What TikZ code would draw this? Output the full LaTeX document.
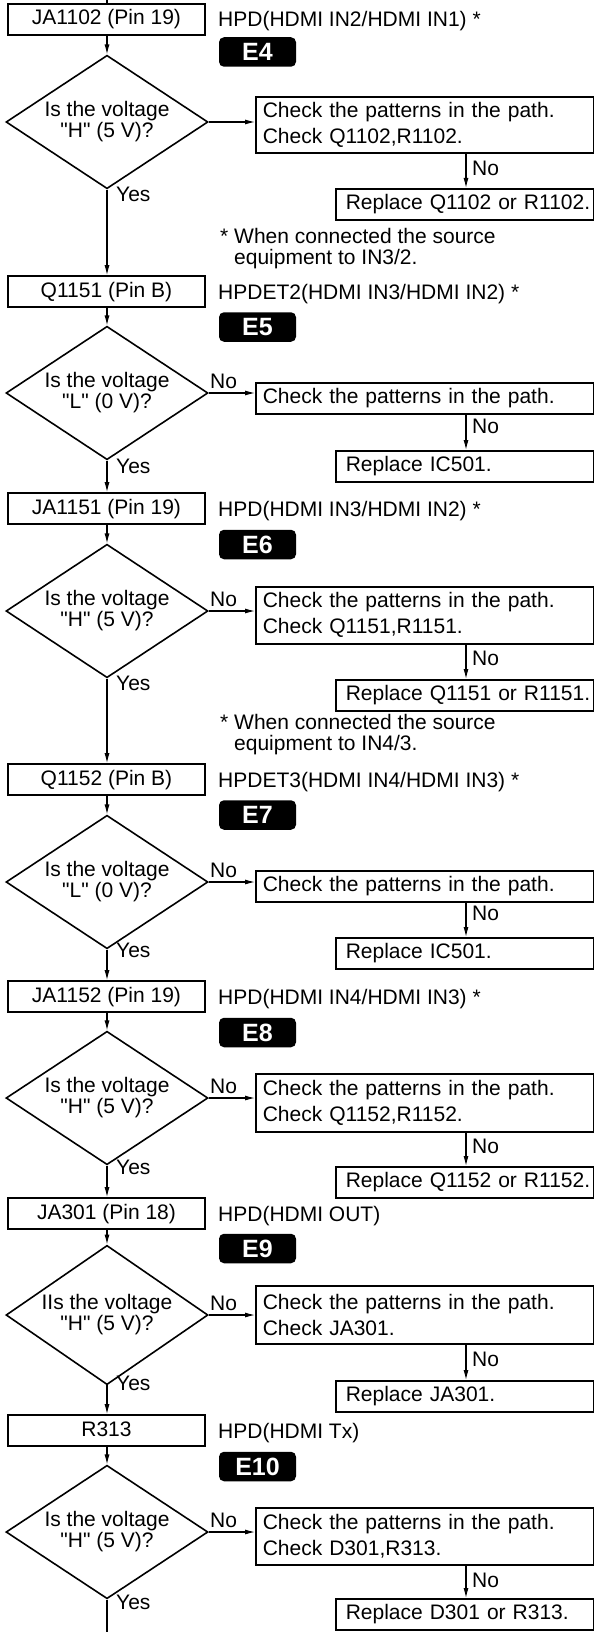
\documentclass[tikz,border=0pt]{standalone}
\usepackage{fontspec}
\setmainfont{Liberation Sans}[Ligatures=TeXOff]
\usetikzlibrary{shapes.geometric,arrows.meta,calc}
\newcommand{\mtxt}{\fontsize{21}{21}\selectfont}
\newcommand{\ctxt}{\fontsize{21}{26}\selectfont}
\newcommand{\ntxt}{\fontsize{21}{21.5}\selectfont}
\newcommand{\btxt}{\bfseries\fontsize{25}{25}\selectfont}
\tikzset{
  box/.style={draw, line width=1.6pt, minimum width=197pt, minimum height=31pt,
    inner sep=0pt, text height=15pt, text depth=4pt, font=\mtxt},
  dia/.style={draw, diamond, line width=1.6pt, minimum width=202pt, minimum height=110pt,
    inner sep=-8pt, align=center, font=\mtxt},
  chk/.style={draw, line width=1.6pt, anchor=north west, minimum width=337.5pt,
    inner xsep=7pt, inner ysep=0pt, text width=323.5pt, align=left, font=\ctxt},
  rep/.style={draw, line width=1.6pt, anchor=north west, minimum width=257.5pt,
    minimum height=31pt, inner xsep=10pt, inner ysep=0pt, text width=237.5pt,
    align=left, text height=15pt, text depth=4pt, font=\mtxt},
  badge/.style={fill=black, rounded corners=5pt, minimum width=77pt, minimum height=29.5pt,
    inner sep=0pt, text=white, font=\btxt},
  lbl/.style={anchor=base west, inner sep=0pt, font=\mtxt},
  note/.style={anchor=base west, inner sep=0pt, align=left, font=\ntxt},
  arr/.style={line width=1.1pt, -{Latex[length=10pt,width=5pt]}},
  ln/.style={line width=1.1pt},
}
\begin{document}
\begin{tikzpicture}[x=1pt,y=-1pt]
\useasboundingbox (0,0) rectangle (594,1632);
\coordinate (top) at (107,0);
\coordinate (bot) at (107,1632);
\coordinate (dx) at (466,0);

% ---------- section 1 ----------
\node[box] (b1) at (106.5,19.5) {JA1102 (Pin 19)};
\node[lbl] (h1) at (218,27) {HPD(HDMI IN2/HDMI IN1) *};
\node[badge] (e4) at (257.5,52) {E4};
\node[dia] (d1) at (107,122) {Is the voltage\\"H" (5 V)?};
\node[chk, minimum height=56pt] (c1) at (255,96) {Check the patterns in the path.\\Check Q1102,R1102.};
\node[rep] (r1) at (335,188) {\mbox{Replace Q1102 or R1102.}};
\node[lbl] (nv1) at (472,175.5) {No};
\node[lbl] (y1) at (116,201.5) {Yes};
\node[note] (n1) at (220,264.5) {* When connected the source\\\phantom{* }equipment to IN3/2.};

% ---------- section 2 ----------
\node[box] (b2) at (106.5,291.5) {Q1151 (Pin B)};
\node[lbl] (h2) at (218,299) {HPDET2(HDMI IN3/HDMI IN2) *};
\node[badge] (e5) at (257.5,327) {E5};
\node[dia] (d2) at (107,393) {Is the voltage\\"L" (0 V)?};
\node[chk, minimum height=31pt] (c2) at (255,382) {Check the patterns in the path.};
\node[rep] (r2) at (335,450) {\mbox{Replace IC501.}};
\node[lbl] (nh2) at (210,388.5) {No};
\node[lbl] (nv2) at (472,433.5) {No};
\node[lbl] (y2) at (116,473.5) {Yes};

% ---------- section 3 ----------
\node[box] (b3) at (106.5,508.5) {JA1151 (Pin 19)};
\node[lbl] (h3) at (218,516) {HPD(HDMI IN3/HDMI IN2) *};
\node[badge] (e6) at (257.5,544.5) {E6};
\node[dia] (d3) at (107,611) {Is the voltage\\"H" (5 V)?};
\node[chk, minimum height=57pt] (c3) at (255,586) {Check the patterns in the path.\\Check Q1151,R1151.};
\node[rep] (r3) at (335,679) {\mbox{Replace Q1151 or R1151.}};
\node[lbl] (nh3) at (210,606.5) {No};
\node[lbl] (nv3) at (472,665.5) {No};
\node[lbl] (y3) at (116,690.5) {Yes};
\node[note] (n2) at (220,750.5) {* When connected the source\\\phantom{* }equipment to IN4/3.};

% ---------- section 4 ----------
\node[box] (b4) at (106.5,779.5) {Q1152 (Pin B)};
\node[lbl] (h4) at (218,787) {HPDET3(HDMI IN4/HDMI IN3) *};
\node[badge] (e7) at (257.5,815) {E7};
\node[dia] (d4) at (107,882) {Is the voltage\\"L" (0 V)?};
\node[chk, minimum height=31pt] (c4) at (255,870) {Check the patterns in the path.};
\node[rep] (r4) at (335,937) {\mbox{Replace IC501.}};
\node[lbl] (nh4) at (210,877.5) {No};
\node[lbl] (nv4) at (472,920.5) {No};
\node[lbl] (y4) at (116,957.5) {Yes};

% ---------- section 5 ----------
\node[box] (b5) at (106.5,996.5) {JA1152 (Pin 19)};
\node[lbl] (h5) at (218,1004) {HPD(HDMI IN4/HDMI IN3) *};
\node[badge] (e8) at (257.5,1032.5) {E8};
\node[dia] (d5) at (107,1098) {Is the voltage\\"H" (5 V)?};
\node[chk, minimum height=58pt] (c5) at (255,1073) {Check the patterns in the path.\\Check Q1152,R1152.};
\node[rep] (r5) at (335,1166) {\mbox{Replace Q1152 or R1152.}};
\node[lbl] (nh5) at (210,1093.5) {No};
\node[lbl] (nv5) at (472,1153.5) {No};
\node[lbl] (y5) at (116,1174.5) {Yes};

% ---------- section 6 ----------
\node[box] (b6) at (106.5,1213.5) {JA301 (Pin 18)};
\node[lbl] (h6) at (218,1221) {HPD(HDMI OUT)};
\node[badge] (e9) at (257.5,1248.5) {E9};
\node[dia] (d6) at (107,1315) {IIs the voltage\\"H" (5 V)?};
\node[chk, minimum height=58pt] (c6) at (255,1285) {Check the patterns in the path.\\Check JA301.};
\node[rep] (r6) at (335,1380) {\mbox{Replace JA301.}};
\node[lbl] (nh6) at (210,1310.5) {No};
\node[lbl] (nv6) at (472,1366.5) {No};
\node[lbl] (y6) at (116,1390.5) {Yes};

% ---------- section 7 ----------
\node[box] (b7) at (106.5,1430.5) {R313};
\node[lbl] (h7) at (218,1438) {HPD(HDMI Tx)};
\node[badge] (e10) at (257.5,1466.5) {E10};
\node[dia] (d7) at (107,1532) {Is the voltage\\"H" (5 V)?};
\node[chk, minimum height=57pt] (c7) at (255,1507) {Check the patterns in the path.\\Check D301,R313.};
\node[rep] (r7) at (335,1598) {\mbox{Replace D301 or R313.}};
\node[lbl] (nh7) at (210,1527.5) {No};
\node[lbl] (nv7) at (472,1587.5) {No};
\node[lbl] (y7) at (116,1609.5) {Yes};

% ---------- connectors ----------
\draw[ln] (top) -- (b1.north -| top);
\draw[arr] (b1.south -| d1.north) -- (d1.north);
\draw[arr] (d1.south) -- (b2.north -| d1.south);
\draw[arr] (b2.south -| d2.north) -- (d2.north);
\draw[arr] (d2.south) -- (b3.north -| d2.south);
\draw[arr] (b3.south -| d3.north) -- (d3.north);
\draw[arr] (d3.south) -- (b4.north -| d3.south);
\draw[arr] (b4.south -| d4.north) -- (d4.north);
\draw[arr] (d4.south) -- (b5.north -| d4.south);
\draw[arr] (b5.south -| d5.north) -- (d5.north);
\draw[arr] (d5.south) -- (b6.north -| d5.south);
\draw[arr] (b6.south -| d6.north) -- (d6.north);
\draw[arr] (d6.south) -- (b7.north -| d6.south);
\draw[arr] (b7.south -| d7.north) -- (d7.north);
\draw[ln] (d7.south) -- (bot);

\foreach \i in {1,...,7}{
  \draw[arr] (d\i.east) -- (d\i.east -| c\i.west);
  \draw[arr] (c\i.south -| dx) -- (r\i.north -| dx);
}
\end{tikzpicture}
\end{document}
